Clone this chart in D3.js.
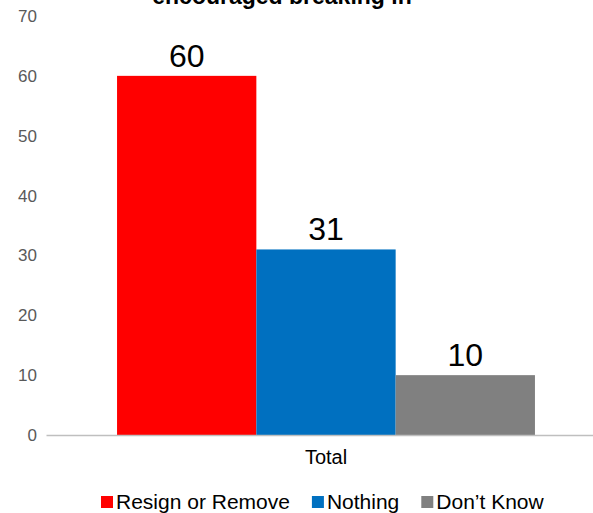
<!DOCTYPE html>
<html>
<head>
<meta charset="utf-8">
<script src="https://cdn.jsdelivr.net/npm/d3@7"></script>
<style>
  html, body { margin: 0; padding: 0; background: #fff; }
  svg { display: block; font-family: "Liberation Sans", Arial, sans-serif; }
</style>
</head>
<body>
<svg id="chart" width="593" height="513"></svg>
<script>
const titleText = "encouraged breaking in";
const categories = ["Total"];
const seriesNames = ["Resign or Remove", "Nothing", "Don\u2019t Know"];
const seriesColors = ["#ff0000", "#0070c0", "#808080"];
const values = [60, 31, 10];
const yTicks = [0, 10, 20, 30, 40, 50, 60, 70];

const svg = d3.select("#chart");
const W = 593, H = 513;
const plotLeft = 46, plotRight = 606, plotTop = 16, plotBottom = 435;

const y = d3.scaleLinear().domain([0, 70]).range([plotBottom, plotTop]);
const x0 = d3.scaleBand().domain(categories).range([plotLeft, plotRight]).paddingInner(0).paddingOuter(0.17);
const x1 = d3.scaleBand().domain(seriesNames).range([0, x0.bandwidth()]).padding(0);

// title (partially cut off at top)
svg.append("text")
  .attr("x", 282).attr("y", 4)
  .attr("text-anchor", "middle")
  .attr("font-size", 23).attr("font-weight", "bold")
  .attr("fill", "#000")
  .text(titleText);

// y axis labels
const yAxis = d3.axisLeft(y).tickValues(yTicks).tickSize(0).tickPadding(0).tickFormat(d3.format("d"));
const gy = svg.append("g").attr("transform", `translate(37,0)`).call(yAxis);
gy.select(".domain").remove();
gy.selectAll("text").attr("font-size", 17).attr("fill", "#595959")
  .attr("font-family", "'Liberation Sans', Arial, sans-serif");

// bars
const g = svg.append("g");
categories.forEach((cat) => {
  seriesNames.forEach((s, i) => {
    const bx = x0(cat) + x1(s);
    g.append("rect")
      .attr("x", bx).attr("y", y(values[i]))
      .attr("width", x1.bandwidth()).attr("height", y(0) - y(values[i]))
      .attr("fill", seriesColors[i]);
    g.append("text")
      .attr("x", bx + x1.bandwidth() / 2).attr("y", y(values[i]) - 9)
      .attr("text-anchor", "middle")
      .attr("font-size", 32).attr("fill", "#000")
      .text(values[i]);
  });
});

// x axis
const xAxis = d3.axisBottom(x0).tickSize(0).tickPadding(0);
const gx = svg.append("g").attr("transform", `translate(0,${plotBottom})`).call(xAxis);
gx.select(".domain").attr("stroke", "#bfbfbf").attr("stroke-width", 1.5);
gx.selectAll("text").attr("font-size", 20).attr("fill", "#000").attr("dy", 0).attr("y", 29)
  .attr("font-family", "'Liberation Sans', Arial, sans-serif");

// legend
const leg = svg.append("g");
let lx = 101;
const legY = 509;
seriesNames.forEach((s, i) => {
  leg.append("rect").attr("x", lx).attr("y", legY - 13).attr("width", 12).attr("height", 12).attr("fill", seriesColors[i]);
  const t = leg.append("text").attr("x", lx + 15).attr("y", legY)
    .attr("font-size", 21).attr("fill", "#000").text(s);
  const w = t.node().getComputedTextLength();
  lx = lx + 15 + w + 22;
});
</script>
</body>
</html>
